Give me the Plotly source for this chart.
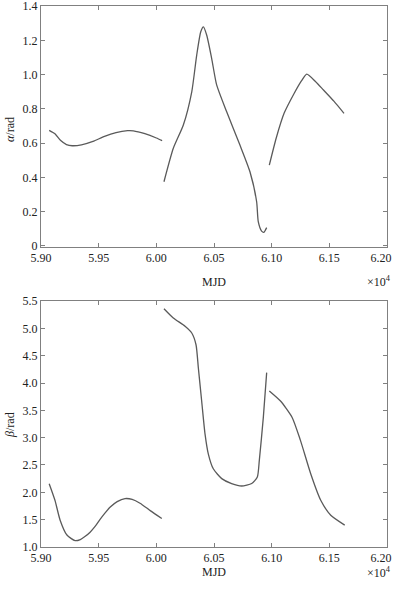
import plotly.graph_objects as go

# alpha segments (MJD in 1e4 units)
a1_x = [5.907, 5.912, 5.917, 5.922, 5.927, 5.935, 5.945, 5.955, 5.965, 5.975, 5.980, 5.990, 6.000, 6.005]
a1_y = [0.675, 0.655, 0.615, 0.592, 0.585, 0.590, 0.610, 0.640, 0.662, 0.673, 0.672, 0.655, 0.630, 0.615]
a2_x = [6.0066, 6.0147, 6.0234, 6.0307, 6.035, 6.0385, 6.0408, 6.0437, 6.048, 6.0523, 6.061, 6.0725, 6.0812, 6.087, 6.0884, 6.0913, 6.0933, 6.0957]
a2_y = [0.375, 0.57, 0.706, 0.90, 1.114, 1.25, 1.279, 1.23, 1.094, 0.94, 0.783, 0.589, 0.433, 0.258, 0.142, 0.087, 0.080, 0.107]
a3_x = [6.098, 6.104, 6.1108, 6.1195, 6.126, 6.1305, 6.138, 6.145, 6.154, 6.1628]
a3_y = [0.472, 0.63, 0.774, 0.89, 0.965, 1.003, 0.96, 0.91, 0.845, 0.774]

# beta segments
b1_x = [5.907, 5.912, 5.9165, 5.9224, 5.9295, 5.934, 5.938, 5.9425, 5.947, 5.951, 5.955, 5.960, 5.966, 5.9728, 5.979, 5.9858, 5.995, 6.0047]
b1_y = [2.158, 1.855, 1.49, 1.218, 1.115, 1.135, 1.19, 1.27, 1.38, 1.50, 1.61, 1.73, 1.83, 1.885, 1.87, 1.80, 1.66, 1.52]
b2_x = [6.0066, 6.0147, 6.0249, 6.0307, 6.0344, 6.0364, 6.0393, 6.0422, 6.0451, 6.0494, 6.0567, 6.0653, 6.074, 6.0827, 6.0876, 6.0893, 6.0928, 6.0957]
b2_y = [5.36, 5.19, 5.04, 4.915, 4.70, 4.28, 3.67, 3.07, 2.70, 2.43, 2.25, 2.16, 2.115, 2.16, 2.28, 2.58, 3.37, 4.19]
b3_x = [6.098, 6.1077, 6.1178, 6.125, 6.1339, 6.1426, 6.1513, 6.1634]
b3_y = [3.855, 3.67, 3.37, 2.95, 2.34, 1.855, 1.58, 1.40]

x_ticks = [5.90, 5.95, 6.00, 6.05, 6.10, 6.15, 6.20]
x_tick_text = ["5.90", "5.95", "6.00", "6.05", "6.10", "6.15", "6.20\u00a0\u00a0\u00a0\u00a0"]
a_ticks = [0, 0.2, 0.4, 0.6, 0.8, 1.0, 1.2, 1.4]
a_tick_text = ["0", "0.2", "0.4", "0.6", "0.8", "1.0", "1.2", "1.4"]
b_ticks = [1.0, 1.5, 2.0, 2.5, 3.0, 3.5, 4.0, 4.5, 5.0, 5.5]
b_tick_text = ["1.0", "1.5", "2.0", "2.5", "3.0", "3.5", "4.0", "4.5", "5.0", "5.5"]

LINE = dict(color="#5a5a5a", width=1.3, shape="spline", smoothing=0.6)
FONT = dict(family="Liberation Serif, serif", size=12, color="#222")

fig = go.Figure()
for xs, ys in [(a1_x, a1_y), (a2_x, a2_y), (a3_x, a3_y)]:
    fig.add_trace(go.Scatter(x=xs, y=ys, mode="lines", line=LINE, xaxis="x", yaxis="y", showlegend=False))
for xs, ys in [(b1_x, b1_y), (b2_x, b2_y), (b3_x, b3_y)]:
    fig.add_trace(go.Scatter(x=xs, y=ys, mode="lines", line=LINE, xaxis="x2", yaxis="y2", showlegend=False))

axcommon = dict(showline=True, linecolor="#808080", linewidth=1, mirror="ticks", ticks="inside",
                ticklen=4, tickcolor="#808080", showgrid=False, zeroline=False,
                tickfont=FONT, automargin=False, ticklabeloverflow="allow")

H = 589
t, b = 6, 42
ph = H - t - b
fig.update_layout(
    width=394, height=589,
    margin=dict(l=41, r=7, t=t, b=b, autoexpand=False),
    paper_bgcolor="white", plot_bgcolor="white",
    font=FONT,
    xaxis=dict(domain=[0, 1], range=[5.8999, 6.2001], tickvals=x_ticks, ticktext=x_tick_text, anchor="y", **axcommon),
    yaxis=dict(domain=[(547 - 247) / ph, 1], range=[-0.006, 1.4005], tickvals=a_ticks, ticktext=a_tick_text, anchor="x", **axcommon),
    xaxis2=dict(domain=[0, 1], range=[5.8999, 6.2001], tickvals=x_ticks, ticktext=x_tick_text, anchor="y2", **axcommon),
    yaxis2=dict(domain=[0, (547 - 301) / ph], range=[0.999, 5.5005], tickvals=b_ticks, ticktext=b_tick_text, anchor="x2", **axcommon),
)

def ypaper(px):
    return (H - b - px) / ph

ann = [
    dict(text="MJD", x=214, y=281.5, xa="center"),
    dict(text="MJD", x=214, y=572, xa="center"),
    dict(text="×10<sup>4</sup>", x=393, y=281, xa="right"),
    dict(text="×10<sup>4</sup>", x=393, y=572, xa="right"),
]
for a in ann:
    fig.add_annotation(text=a["text"], x=(a["x"] - 41) / 346, y=ypaper(a["y"]), xref="paper", yref="paper",
                       showarrow=False, font=FONT, xanchor=a["xa"], yanchor="middle")
fig.add_annotation(text="<i>α</i>/rad", x=(10 - 41) / 346, y=ypaper(130), xref="paper", yref="paper",
                   showarrow=False, font=FONT, textangle=-90, xanchor="center", yanchor="middle")
fig.add_annotation(text="<i>β</i>/rad", x=(10 - 41) / 346, y=ypaper(425), xref="paper", yref="paper",
                   showarrow=False, font=FONT, textangle=-90, xanchor="center", yanchor="middle")

fig.write_html("out.html", config={"displayModeBar": False},
               post_script="document.body.style.margin='0';document.body.style.overflow='hidden';")
